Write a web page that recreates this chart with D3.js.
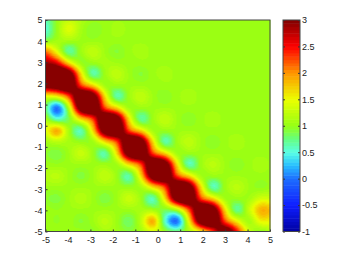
<!DOCTYPE html>
<html>
<head>
<meta charset="utf-8">
<script src="https://d3js.org/d3.v7.min.js"></script>
<style>
  body { margin: 0; background: #fff; }
  text { font-family: "Liberation Sans", Arial, sans-serif; font-size: 9px; fill: #222; }
</style>
</head>
<body>
<div id="chart"></div>
<script>
// tick labels
const xTicks = [-5, -4, -3, -2, -1, 0, 1, 2, 3, 4, 5];
const yTicks = [-5, -4, -3, -2, -1, 0, 1, 2, 3, 4, 5];
const barTicks = [-1, -0.5, 0, 0.5, 1, 1.5, 2, 2.5, 3];

// colormap stops
const mapValues = [-1, -0.5, 0, 0.25, 0.5, 0.75, 1, 1.5, 2, 2.5, 3];
const mapColors = ["#0000a0", "#0f1eff", "#1e6eff", "#28beff", "#5affe6", "#64ff82",
  "#96ff14", "#ebff00", "#ff9600", "#ff0000", "#800000"];

// sample positions of the surface
const gridX = [-5.035, -4.5, -3.965, -3.43, -2.895, -2.36, -1.825, -1.29, -0.755, -0.22,
  0.315, 0.85, 1.385, 1.92, 2.455, 2.99, 3.525, 4.06, 4.595, 5.13];
const gridY = [5.13, 4.595, 4.06, 3.525, 2.99, 2.455, 1.92, 1.385, 0.85, 0.315,
  -0.22, -0.755, -1.29, -1.825, -2.36, -2.895, -3.43, -3.965, -4.5, -5.035];

// surface values, top row first (above 3 is clipped by the colormap)
const surface = [
  [.65,1,1.2,1.15,1.05,1.05,1.05,1.05,1.05,1.05,1.05,1.05,1.05,1.05,1.05,1.05,1.05,1.05,1.05,1.05],
  [.45,1,1.5,1.1,.92,1.02,1.09,1.05,1.02,1.05,1.05,1.05,1.05,1.05,1.05,1.05,1.05,1.05,1.05,1.05],
  [.8,1.05,1.15,1.05,1,1.05,1.05,1.05,1.05,1.05,1.05,1.05,1.05,1.05,1.05,1.05,1.05,1.05,1.05,1.05],
  [2.2,1.4,.55,1.05,1.3,1.05,.9,1.05,1.09,1.05,1.03,1.05,1.05,1.05,1.05,1.05,1.05,1.05,1.05,1.05],
  [2.9,2.6,1.55,.95,1.05,1.1,1.05,1.02,1.05,1.05,1.05,1.05,1.05,1.05,1.05,1.05,1.05,1.05,1.05,1.05],
  [3.8,3.9,3.55,1.65,.5,1.05,1.28,1.05,.9,1.05,1.09,1.05,1.03,1.05,1.05,1.05,1.05,1.05,1.05,1.05],
  [3.3,3.55,3.9,2.2,1.65,1,1.05,1.05,1.05,1.02,1.05,1.05,1.05,1.05,1.05,1.05,1.05,1.05,1.05,1.05],
  [1.4,1.5,2.2,3.9,3.55,1.65,.5,1.05,1.3,1.05,.92,1.05,1.09,1.05,1.03,1.05,1.05,1.05,1.05,1.05],
  [.85,-.25,1.1,3.55,3.9,2.2,1.65,1,1.05,1.05,1.05,1.05,1.05,1.05,1.05,1.05,1.05,1.05,1.05,1.05],
  [1.2,.5,.85,1.65,2.2,3.9,3.55,1.65,.55,1.05,1.3,1.05,.92,1.05,1.09,1.05,1.03,1.05,1.05,1.05],
  [1.35,2.1,1.1,.45,1.65,3.55,3.9,2.2,1.65,1,1.05,1.05,1.05,1.05,1.05,1.05,1.05,1.05,1.05,1.05],
  [1.05,1.2,1.1,1,1,1.65,2.2,3.9,3.55,1.65,.5,1.05,1.28,1.05,.92,1.05,1.09,1.05,1.03,1.05],
  [.95,.85,1.05,1.35,1.05,.5,1.65,3.55,3.9,2.2,1.65,1,1.05,1.05,1.05,1.05,1.05,1.05,1.05,1.05],
  [1.05,1,1.05,1.05,1.05,1.05,1,1.65,2.2,3.9,3.55,1.65,.45,1.05,1.25,1.05,.92,1.05,1.09,1.05],
  [1.15,1.25,1.05,.88,1.05,1.3,1.05,.5,1.65,3.55,3.9,2.2,1.65,1,1.05,1.05,1.05,1.05,1.05,1.05],
  [1.05,1.05,1.05,1.05,1.05,1.05,1.05,1,1.05,1.65,2.2,3.9,3.55,1.65,.45,1.05,1.25,1.05,.94,1.05],
  [.95,.88,1.05,1.2,1.05,.85,1.05,1.35,1.05,.45,1.65,3.55,3.9,2.2,1.65,1,1.05,1.05,1.35,1.3],
  [1.05,1,1.05,1.05,1.05,1.05,1.05,1.05,1.1,1.05,.85,1.1,2.2,3.9,3.55,1.65,.55,1.3,1.95,1.8],
  [1.05,.98,1.05,.9,1.05,1.25,1.05,.75,1.2,2.1,.5,-.25,1.5,3.55,3.9,2.2,1.5,1,1.6,1.5],
  [1,1.05,1,1.05,.95,1.1,1.05,.95,1.05,1.35,1.05,.85,1.1,1.4,2.2,3.7,2.6,1.3,.9,1.2]
];

const width = 346, height = 261;
const plot = { left: 45.5, right: 270, top: 20, bottom: 231.5 };
const bar = { left: 283, right: 300 };
const levels = 64;

let x = d3.scaleLinear().domain([-5, 5]).range([plot.left, plot.right]);
let y = d3.scaleLinear().domain([-5, 5]).range([plot.bottom, plot.top]);
let barY = d3.scaleLinear().domain([-1, 3]).range([plot.bottom, plot.top]);

// surface coordinate -> position in the sample grid
let colIndex = d3.scaleLinear().domain([gridX[0], gridX[19]]).range([0, 19]);
let rowIndex = d3.scaleLinear().domain([gridY[0], gridY[19]]).range([0, 19]);

let mapScale = d3.scaleLinear().domain(mapValues).range(mapColors).clamp(true);
let levelOf = d3.scaleQuantize().domain([-1, 3]).range(d3.range(levels));
const levelColor = l => d3.rgb(mapScale(-1 + 4 * (l + 0.5) / levels));
const levelColors = d3.range(levels).map(levelColor);

// mitchell filter for smooth shading between samples, like shading interp
const kernel = t => {
  t = Math.abs(t);
  if (t < 1) return (7 * t * t * t - 12 * t * t + 16 / 3) / 6;
  if (t < 2) return (-7 / 3 * t * t * t + 12 * t * t - 20 * t + 32 / 3) / 6;
  return 0;
};
const clampIdx = i => Math.max(0, Math.min(19, i));
const shade = (u, v) => {
  let i = Math.floor(u), j = Math.floor(v), sum = 0;
  for (let m = -1; m <= 2; m++) {
    let row = surface[clampIdx(j + m)];
    for (let n = -1; n <= 2; n++) {
      sum += row[clampIdx(i + n)] * kernel(u - i - n) * kernel(v - j - m);
    }
  }
  return sum;
};

// paint the surface into a canvas
const pw = Math.round(plot.right - plot.left), ph = Math.round(plot.bottom - plot.top);
let canvas = document.createElement("canvas");
canvas.width = pw;
canvas.height = ph;
let ctx = canvas.getContext("2d");
let img = ctx.createImageData(pw, ph);
for (let py = 0; py < ph; py++) {
  for (let px = 0; px < pw; px++) {
    let u = colIndex(x.invert(plot.left + px + 0.5));
    let v = rowIndex(y.invert(plot.top + py + 0.5));
    let c = levelColors[levelOf(Math.max(-1, Math.min(3, shade(u, v))))];
    let k = 4 * (py * pw + px);
    img.data[k] = c.r;
    img.data[k + 1] = c.g;
    img.data[k + 2] = c.b;
    img.data[k + 3] = 255;
  }
}
ctx.putImageData(img, 0, 0);

let svg = d3.select("#chart").append("svg")
  .attr("width", width)
  .attr("height", height)
  .style("display", "block");

svg.append("image")
  .attr("x", plot.left)
  .attr("y", plot.top)
  .attr("width", pw)
  .attr("height", ph)
  .attr("href", canvas.toDataURL());

// colorbar cells
svg.append("g").selectAll("rect")
  .data(d3.range(levels))
  .join("rect")
  .attr("x", bar.left)
  .attr("width", bar.right - bar.left)
  .attr("y", l => barY(-1 + 4 * (l + 1) / levels))
  .attr("height", l => barY(-1 + 4 * l / levels) - barY(-1 + 4 * (l + 1) / levels) + 0.5)
  .attr("fill", l => levelColors[l]);

const styleAxis = g => {
  g.select(".domain").remove();
  g.selectAll("line").attr("stroke", "#333");
};

// axes, ticks point inward as in matlab
svg.append("g")
  .attr("transform", "translate(0," + plot.bottom + ")")
  .call(d3.axisBottom(x).tickValues(xTicks).tickSize(-2).tickPadding(5).tickFormat(String))
  .call(styleAxis);
svg.append("g")
  .attr("transform", "translate(" + plot.left + ",0)")
  .call(d3.axisLeft(y).tickValues(yTicks).tickSize(-2).tickPadding(3).tickFormat(String))
  .call(styleAxis);
svg.append("g")
  .attr("transform", "translate(" + bar.right + ",0)")
  .call(d3.axisRight(barY).tickValues(barTicks).tickSize(-2).tickPadding(2).tickFormat(String))
  .call(styleAxis);
svg.append("g")
  .attr("transform", "translate(" + bar.left + ",0)")
  .call(d3.axisLeft(barY).tickValues(barTicks).tickSize(-2).tickFormat(""))
  .call(styleAxis);

// boxes
svg.append("rect")
  .attr("x", plot.left).attr("y", plot.top)
  .attr("width", plot.right - plot.left).attr("height", plot.bottom - plot.top)
  .attr("fill", "none").attr("stroke", "#444");
svg.append("rect")
  .attr("x", bar.left).attr("y", plot.top)
  .attr("width", bar.right - bar.left).attr("height", plot.bottom - plot.top)
  .attr("fill", "none").attr("stroke", "#444");
</script>
</body>
</html>
